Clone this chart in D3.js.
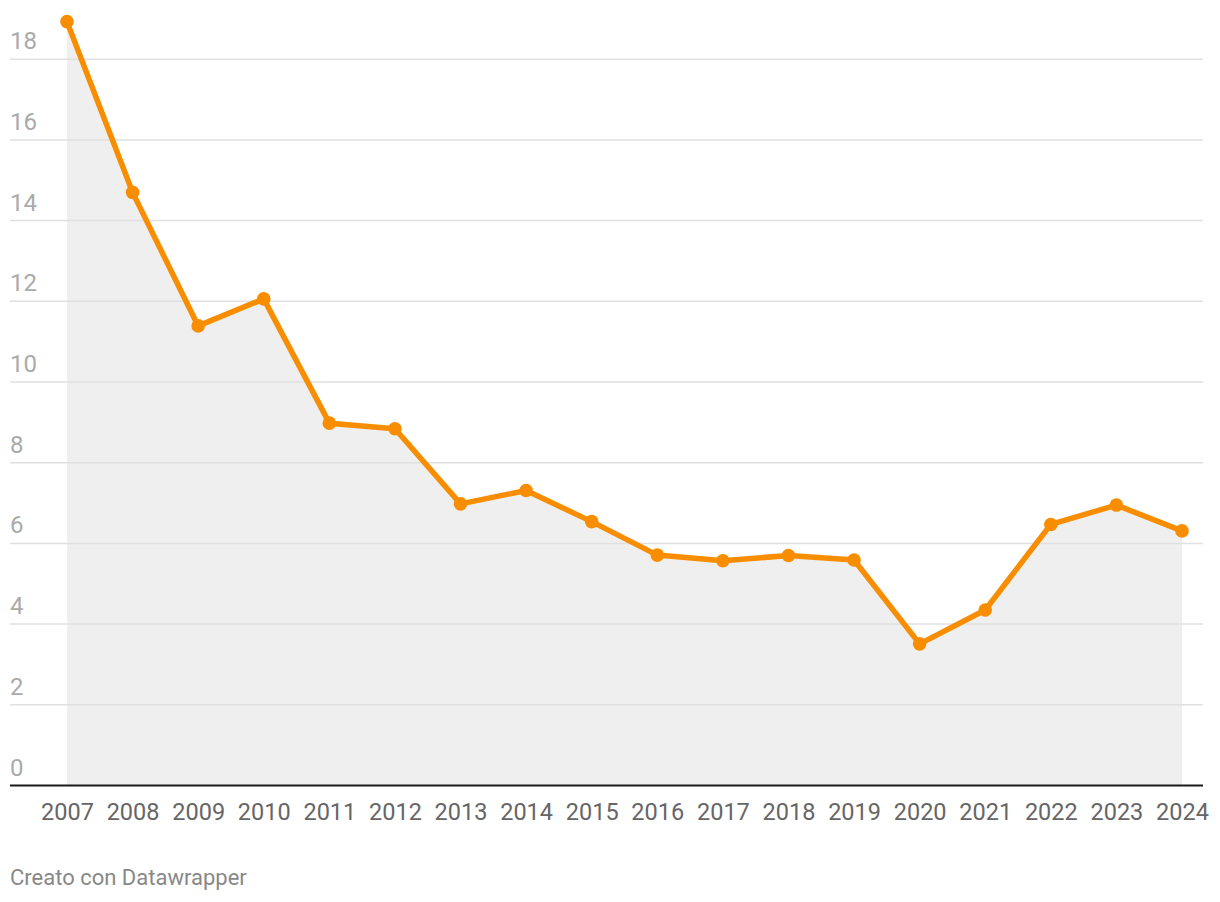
<!DOCTYPE html>
<html>
<head>
<meta charset="utf-8">
<script src="https://cdn.jsdelivr.net/npm/d3@7"></script>
<style>
  html, body { margin: 0; padding: 0; background: #fff; }
  svg { display: block; font-family: Roboto, "Noto Sans", sans-serif; }
</style>
</head>
<body>
<svg id="chart" width="1220" height="902"></svg>
<script>
const years = [2007, 2008, 2009, 2010, 2011, 2012, 2013, 2014, 2015, 2016, 2017, 2018, 2019, 2020, 2021, 2022, 2023, 2024];
const values = [18.93, 14.70, 11.39, 12.06, 8.98, 8.84, 6.98, 7.31, 6.54, 5.71, 5.57, 5.70, 5.59, 3.51, 4.35, 6.47, 6.95, 6.31];
const yTicks = [0, 2, 4, 6, 8, 10, 12, 14, 16, 18];
const creditText = "Creato con Datawrapper";

const svg = d3.select("#chart");
const left = 10, right = 1203;
const x = d3.scalePoint().domain(years).range([67, 1182]);
const y = d3.scaleLinear().domain([0, 18]).range([785.5, 59.2]);

const data = years.map((yr, i) => ({ year: yr, value: values[i] }));

// area
svg.append("path")
  .datum(data)
  .attr("fill", "#efefef")
  .attr("d", d3.area().x(d => x(d.year)).y0(y(0)).y1(d => y(d.value)));

// gridlines
const grid = svg.append("g");
grid.selectAll("line").data(yTicks.filter(t => t !== 0)).join("line")
  .attr("x1", left).attr("x2", right)
  .attr("y1", d => y(d)).attr("y2", d => y(d))
  .attr("stroke", "#e0e0e0").attr("stroke-width", 1.5);

// y labels
svg.append("g").selectAll("text").data(yTicks).join("text")
  .attr("x", left).attr("y", d => y(d) - 10)
  .attr("fill", "#aaaaaa").attr("font-size", 24)
  .text(d => d);

// baseline
svg.append("line")
  .attr("x1", left).attr("x2", right)
  .attr("y1", y(0)).attr("y2", y(0))
  .attr("stroke", "#1a1a1a").attr("stroke-width", 2);

// x axis labels
const xAxis = d3.axisBottom(x).tickSize(0).tickPadding(0);
const gx = svg.append("g").attr("transform", `translate(0,${y(0)})`).call(xAxis);
gx.select(".domain").remove();
gx.selectAll("text")
  .attr("y", 34).attr("dy", 0)
  .attr("fill", "#666666").attr("font-size", 23.5)
  .attr("font-family", "Roboto, 'Noto Sans', sans-serif");

// line
svg.append("path")
  .datum(data)
  .attr("fill", "none")
  .attr("stroke", "#f98d00")
  .attr("stroke-width", 5.5)
  .attr("stroke-linejoin", "round")
  .attr("d", d3.line().x(d => x(d.year)).y(d => y(d.value)));

// dots
svg.append("g").selectAll("circle").data(data).join("circle")
  .attr("cx", d => x(d.year)).attr("cy", d => y(d.value))
  .attr("r", 6.8).attr("fill", "#f98d00");

// credit
svg.append("text")
  .attr("x", left).attr("y", 885)
  .attr("fill", "#888888").attr("font-size", 22)
  .text(creditText);
</script>
</body>
</html>
